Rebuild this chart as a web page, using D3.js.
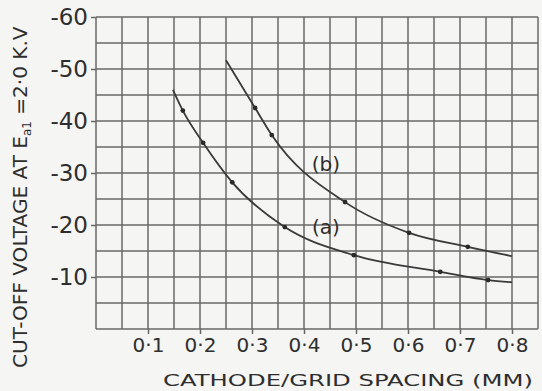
<!DOCTYPE html>
<html>
<head>
<meta charset="utf-8">
<script src="https://cdn.jsdelivr.net/npm/d3@7"></script>
<style>
	html, body { margin: 0; padding: 0; background: #f5f5f4; }
	svg { display: block; }
	text { font-family: "DejaVu Sans", sans-serif; fill: #2e2e2e; }
</style>
</head>
<body>
<div id="chart"></div>
<script>
// values (magnitude of the negative cut-off voltage)
const spacingA = [0.148, 0.167, 0.206, 0.262, 0.363, 0.496, 0.662, 0.754, 0.8];
const voltsA = [46, 42, 35.8, 28.2, 19.6, 14.2, 11.0, 9.4, 9.0];
const spacingB = [0.25, 0.306, 0.338, 0.479, 0.602, 0.715, 0.8];
const voltsB = [51.7, 42.5, 37.3, 24.4, 18.5, 15.8, 14.0];
const dotsA = [0.167, 0.206, 0.262, 0.363, 0.496, 0.662, 0.754];
const dotsB = [0.306, 0.338, 0.479, 0.602, 0.715];
const xTicks = [0.1, 0.2, 0.3, 0.4, 0.5, 0.6, 0.7, 0.8];
const yTicks = [10, 20, 30, 40, 50, 60];

const width = 542, height = 391;
const margin = { top: 17, right: 4, bottom: 62, left: 96 };

const svg = d3.select("#chart").append("svg")
	.attr("width", width)
	.attr("height", height);

const x = d3.scaleLinear().domain([0, 0.85]).range([margin.left, width - margin.right]);
const y = d3.scaleLinear().domain([0, 60]).range([height - margin.bottom, margin.top]);

// grid every 0.05 mm / 5 V
const grid = svg.append("g")
	.attr("stroke", "#686868")
	.attr("stroke-width", 1.5);
grid.selectAll("line.v")
	.data(d3.range(0, 18).map(i => i * 0.05))
	.join("line")
	.attr("x1", d => x(d)).attr("x2", d => x(d))
	.attr("y1", y(0)).attr("y2", y(60));
grid.selectAll("line.h")
	.data(d3.range(0, 13).map(i => i * 5))
	.join("line")
	.attr("x1", x(0)).attr("x2", x(0.85))
	.attr("y1", d => y(d)).attr("y2", d => y(d));

// axes
const xAxis = d3.axisBottom(x)
	.tickValues(xTicks)
	.tickSize(5)
	.tickPadding(4)
	.tickFormat(d => d3.format(".1f")(d).replace(".", "·"));
const gx = svg.append("g")
	.attr("transform", `translate(0,${y(0)})`)
	.call(xAxis);
gx.select(".domain").remove();
gx.selectAll(".tick line").attr("stroke", "#686868").attr("stroke-width", 1.5);
gx.selectAll(".tick text").attr("font-size", 20).attr("fill", "#2e2e2e");

const yAxis = d3.axisLeft(y)
	.tickValues(yTicks)
	.tickSize(5)
	.tickPadding(3)
	.tickFormat(d => "-" + d);
const gy = svg.append("g")
	.attr("transform", `translate(${x(0)},0)`)
	.call(yAxis);
gy.select(".domain").remove();
gy.selectAll(".tick line").attr("stroke", "#686868").attr("stroke-width", 1.5);
gy.selectAll(".tick text").attr("font-size", 23).attr("fill", "#2e2e2e");

// curves
const line = d3.line()
	.x(d => x(d[0]))
	.y(d => y(d[1]))
	.curve(d3.curveMonotoneX);

const curves = [
	{ xs: spacingA, ys: voltsA, dots: dotsA },
	{ xs: spacingB, ys: voltsB, dots: dotsB },
];
curves.forEach(c => {
	const pts = c.xs.map((v, i) => [v, c.ys[i]]);
	svg.append("path")
		.datum(pts)
		.attr("d", line)
		.attr("fill", "none")
		.attr("stroke", "#3a3a3a")
		.attr("stroke-width", 1.8);
	svg.selectAll(null)
		.data(c.dots.map(v => pts.find(p => p[0] === v)))
		.join("circle")
		.attr("cx", d => x(d[0]))
		.attr("cy", d => y(d[1]))
		.attr("r", 2.4)
		.attr("fill", "#2a2a2a");
});

// curve labels
svg.append("text")
	.attr("x", x(0.442)).attr("y", y(30.3))
	.attr("text-anchor", "middle")
	.attr("font-size", 20)
	.text("(b)");
svg.append("text")
	.attr("x", x(0.442)).attr("y", y(18.3))
	.attr("text-anchor", "middle")
	.attr("font-size", 20)
	.text("(a)");

// axis titles
svg.append("text")
	.attr("x", 163).attr("y", 386)
	.attr("font-size", 16)
	.attr("textLength", 370)
	.attr("lengthAdjust", "spacingAndGlyphs")
	.text("CATHODE/GRID SPACING (MM)");

const yt = svg.append("text")
	.attr("transform", "translate(27,368) rotate(-90)")
	.attr("font-size", 20);
yt.append("tspan").attr("textLength", 232).attr("lengthAdjust", "spacingAndGlyphs").text("CUT-OFF VOLTAGE AT E");
yt.append("tspan").attr("font-size", 12).attr("dy", 4).text("a1");
yt.append("tspan").attr("dy", -4).text(" =2·0 K.V");
</script>
</body>
</html>
